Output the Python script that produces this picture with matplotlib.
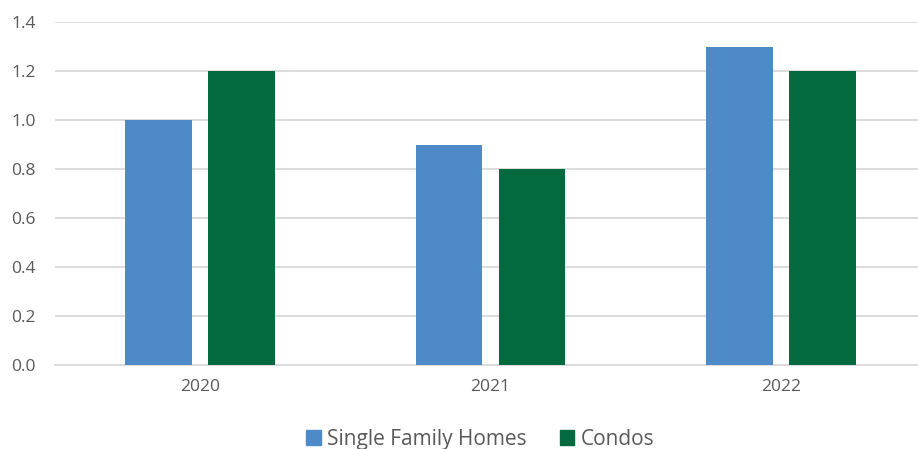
import matplotlib
matplotlib.use("Agg")
import matplotlib.pyplot as plt
import numpy as np
from matplotlib.patches import Patch

categories = ["2020", "2021", "2022"]
single_family = [1.0, 0.9, 1.3]
condos = [1.2, 0.8, 1.2]
series_names = ["Single Family Homes", "Condos"]
yticks = [0.0, 0.2, 0.4, 0.6, 0.8, 1.0, 1.2, 1.4]

plt.rcParams['font.family'] = ['Open Sans', 'DejaVu Sans']
blue = "#4E8AC8"
green = "#036A3F"
txt = "#595959"
grid = "#D9D9D9"

fig = plt.figure(figsize=(9.18, 4.49), dpi=100)
ax = fig.add_axes([55/918, (449-365)/449, 871/918, 343/449])

x = np.arange(len(categories))
w = 0.23
off = 0.143
ax.bar(x - off, single_family, width=w, color=blue, zorder=3)
ax.bar(x + off, condos, width=w, color=green, zorder=3)

ax.set_xlim(-0.5, len(categories) - 0.5)
ax.set_ylim(0, 1.4)
ax.set_yticks(yticks)
ax.set_yticklabels([f"{v:.1f}" for v in yticks])
ax.set_xticks(x)
ax.set_xticklabels(categories)
ax.yaxis.grid(True, color=grid, linewidth=1.3, zorder=0)
for s in ["top", "right", "left"]:
    ax.spines[s].set_visible(False)
ax.spines["bottom"].set_color(grid)
ax.spines["bottom"].set_linewidth(1.3)
ax.tick_params(axis='both', length=0, colors=txt, labelsize=12.5)
ax.tick_params(axis='y', pad=14)
ax.tick_params(axis='x', pad=10)

handles = [Patch(color=blue), Patch(color=green)]
fig.legend(handles, series_names, loc='center', bbox_to_anchor=(0.523, 0.022),
           ncol=2, frameon=False, fontsize=15, labelcolor=txt,
           handlelength=0.7, handleheight=0.7, handletextpad=0.3, columnspacing=1.6)

fig.savefig("out.png", dpi=100)
